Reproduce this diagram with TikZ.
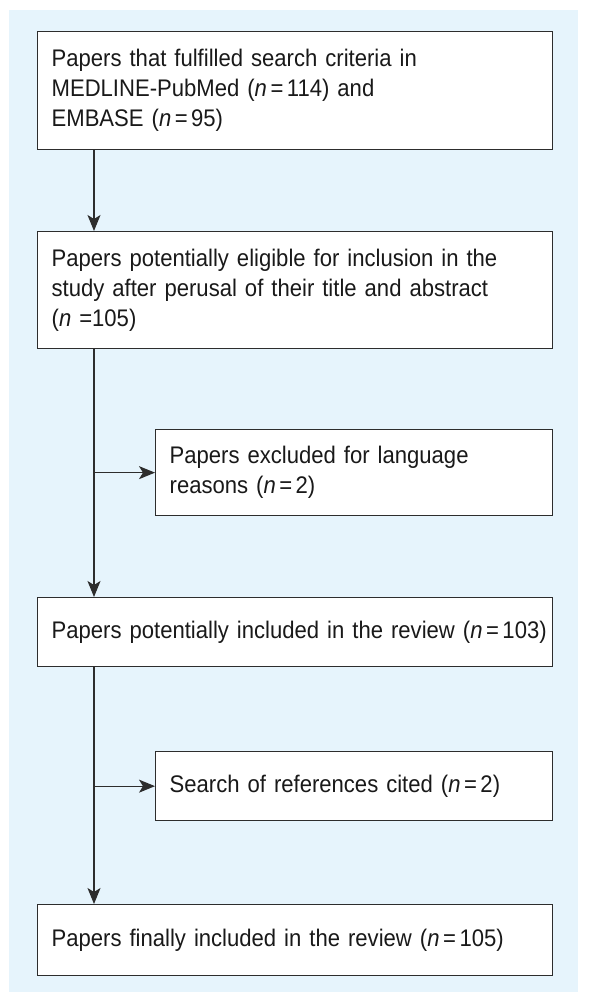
\documentclass[tikz,border=0pt]{standalone}
\usepackage{fontspec}
\setmainfont[FakeStretch=0.92]{Liberation Sans}
\usepackage{tikz}
\usetikzlibrary{arrows.meta,positioning,calc}
\usepackage{xcolor}
\definecolor{bgblue}{RGB}{230,244,252}
\definecolor{linegray}{RGB}{45,45,45}
\definecolor{textgray}{RGB}{25,25,25}
\newcommand{\ncount}[1]{\textit{n}\kern3.5pt=\kern3.5pt#1}

\begin{document}
\begin{tikzpicture}[x=1pt, y=-1pt,
    box/.style={draw=linegray, line width=1.3pt, fill=white, anchor=north west,
      inner xsep=14pt, align=left, text=textgray,
      font=\fontsize{24}{30}\selectfont},
    arr/.style={draw=linegray, line width=1.2pt,
      -{Stealth[length=16pt,width=13pt,inset=4pt]}}]
        % Page and background
        \useasboundingbox (0,0) rectangle (589,1003);
        \fill[bgblue] (9,10) rectangle (578,992);
        % Boxes
        \node[box, text width=487pt, minimum height=118pt] (search) at (37,31)
          {Papers that fulfilled search criteria in\\
           MEDLINE-PubMed (\ncount{114}) and\\
           EMBASE (\ncount{95})};
        \node[box, text width=487pt, minimum height=117pt] (eligible) at (37,231)
          {Papers potentially eligible for inclusion in the\\
           study after perusal of their title and abstract\\
           (\textit{n} =105)};
        \node[box, text width=369pt, minimum height=86pt] (excluded) at (155,429)
          {Papers excluded for language\\
           reasons (\ncount{2})};
        \node[box, text width=487pt, minimum height=69pt] (potential) at (37,597)
          {\mbox{Papers potentially included in the review (\ncount{103})}};
        \node[box, text width=369pt, minimum height=69pt] (cited) at (155,751)
          {\mbox{Search of references cited (\ncount{2})}};
        \node[box, text width=487pt, minimum height=71pt] (final) at (37,904)
          {\mbox{Papers finally included in the review (\ncount{105})}};
        % Arrows
        \coordinate (spine) at (94,0);
        \draw[arr] (search.south -| spine) -- (eligible.north -| spine);
        \draw[arr] (eligible.south -| spine) -- (potential.north -| spine);
        \draw[arr] (excluded.west -| spine) -- (excluded.west);
        \draw[arr] (potential.south -| spine) -- (final.north -| spine);
        \draw[arr] (cited.west -| spine) -- (cited.west);
      \end{tikzpicture}
\end{document}
